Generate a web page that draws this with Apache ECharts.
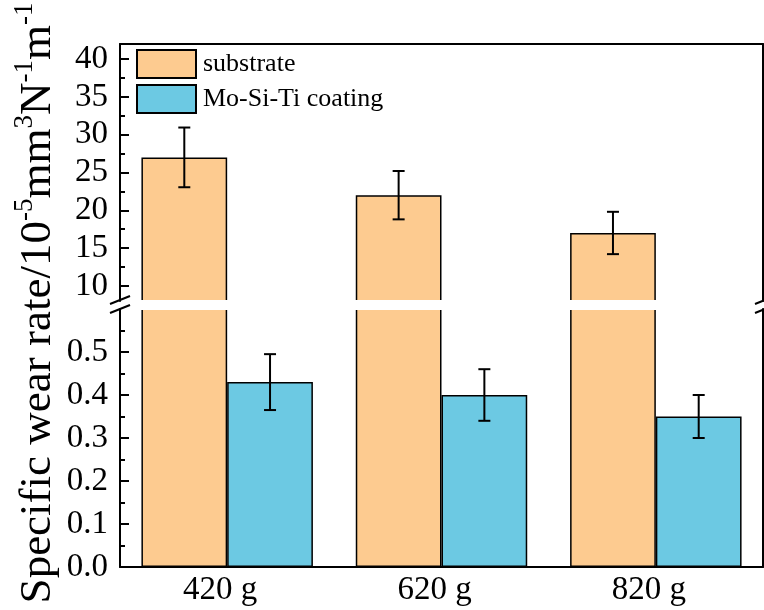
<!DOCTYPE html>
<html>
<head>
<meta charset="utf-8">
<script src="https://cdn.jsdelivr.net/npm/echarts@6/dist/echarts.min.js"></script>
<style>
	html, body { margin: 0; padding: 0; background: #fff; }
	#chart { width: 764px; height: 610px; }
</style>
</head>
<body>
<div id="chart"></div>
<script>
var categories = ['420 g', '620 g', '820 g'];
var substrate = [27, 22, 17];
var substrateErr = [3.95, 3.2, 2.8];
var coating = [0.43, 0.40, 0.35];
var coatingErr = [0.065, 0.06, 0.05];

var upperTicks = [10, 15, 20, 25, 30, 35, 40];
var upperMinor = [12.5, 17.5, 22.5, 27.5, 32.5, 37.5];
var lowerTicks = [0, 0.1, 0.2, 0.3, 0.4, 0.5];
var lowerMinor = [0.05, 0.15, 0.25, 0.35, 0.45, 0.55];

var FONT = "'Liberation Serif', 'Times New Roman', serif";
var colSub = '#FDCB90';
var colCoat = '#6CC9E3';

var chartDom = document.getElementById('chart');
var myChart = echarts.init(chartDom);

function errData(vals, errs) {
	var out = [];
	for (var i = 0; i < vals.length; i++) {
		out.push([i, vals[i] - errs[i], vals[i] + errs[i]]);
	}
	return out;
}

function errRender(offset) {
	return function (params, api) {
		var i = api.value(0);
		var band = api.size([1, 0])[0];
		var hi = api.coord([i, api.value(2)]);
		var lo = api.coord([i, api.value(1)]);
		var x = hi[0] + band * offset;
		var cap = 6;
		var st = { stroke: '#000', lineWidth: 2 };
		return {
			type: 'group',
			children: [
				{ type: 'line', shape: { x1: x, y1: hi[1], x2: x, y2: lo[1] }, style: st },
				{ type: 'line', shape: { x1: x - cap, y1: hi[1], x2: x + cap, y2: hi[1] }, style: st },
				{ type: 'line', shape: { x1: x - cap, y1: lo[1], x2: x + cap, y2: lo[1] }, style: st }
			]
		};
	};
}

// value axis with major ticks + labels
function majorAxis(grid, min, max, ticks, fmt) {
	return {
		type: 'value', gridIndex: grid, position: 'left', min: min, max: max,
		axisLine: { show: true, lineStyle: { color: '#000', width: 2 } },
		axisTick: { show: true, inside: true, length: 9, customValues: ticks, lineStyle: { color: '#000', width: 2 } },
		axisLabel: { show: true, customValues: ticks, margin: 12, fontFamily: FONT, fontSize: 33, color: '#000', formatter: fmt },
		splitLine: { show: false }
	};
}
function minorAxis(grid, min, max, ticks) {
	return {
		type: 'value', gridIndex: grid, position: 'left', min: min, max: max,
		axisLine: { show: false },
		axisTick: { show: true, inside: true, length: 5, customValues: ticks, lineStyle: { color: '#000', width: 2 } },
		axisLabel: { show: false },
		splitLine: { show: false }
	};
}
function rightAxis(grid, min, max) {
	return {
		type: 'value', gridIndex: grid, position: 'right', min: min, max: max,
		axisLine: { show: true, lineStyle: { color: '#000', width: 2 } },
		axisTick: { show: false }, axisLabel: { show: false }, splitLine: { show: false }
	};
}

var barStyle = function (c) { return { color: c, borderColor: '#000', borderWidth: 1.5 }; };

var option = {
	animation: false,
	backgroundColor: '#fff',
	grid: [
		{ left: 120, right: 1, top: 44, height: 257 },
		{ left: 120, right: 1, top: 309, height: 258 }
	],
	legend: {
		data: ['substrate', 'Mo-Si-Ti coating'],
		orient: 'vertical', left: 136, top: 49, padding: 0,
		itemWidth: 59, itemHeight: 28, itemGap: 5,
		icon: 'rect',
		textStyle: { fontFamily: FONT, fontSize: 26, color: '#000', padding: [0, 0, 0, 2] }
	},
	xAxis: [
		{
			type: 'category', gridIndex: 0, data: categories, position: 'top',
			axisLine: { show: true, lineStyle: { color: '#000', width: 2 } },
			axisTick: { show: false }, axisLabel: { show: false }
		},
		{
			type: 'category', gridIndex: 1, data: categories, position: 'bottom',
			axisLine: { show: true, lineStyle: { color: '#000', width: 2 } },
			axisTick: { show: false },
			axisLabel: { margin: 7, fontFamily: FONT, fontSize: 33, color: '#000', padding: [0, 14, 0, 0] }
		}
	],
	yAxis: [
		majorAxis(0, 8, 42, upperTicks, function (v) { return String(v); }),
		minorAxis(0, 8, 42, upperMinor),
		rightAxis(0, 8, 42),
		majorAxis(1, 0, 0.6, lowerTicks, function (v) { return v.toFixed(1); }),
		minorAxis(1, 0, 0.6, lowerMinor),
		rightAxis(1, 0, 0.6)
	],
	series: [
		{ name: 'substrate', type: 'bar', xAxisIndex: 0, yAxisIndex: 0, data: substrate,
			barGap: '0%', barCategoryGap: '20%', itemStyle: barStyle(colSub), clip: true },
		{ name: 'Mo-Si-Ti coating', type: 'bar', xAxisIndex: 0, yAxisIndex: 0, data: coating,
			barGap: '0%', barCategoryGap: '20%', itemStyle: barStyle(colCoat), clip: true },
		{ name: 'substrate', type: 'bar', xAxisIndex: 1, yAxisIndex: 3, data: substrate,
			barGap: '0%', barCategoryGap: '20%', itemStyle: barStyle(colSub), clip: true },
		{ name: 'Mo-Si-Ti coating', type: 'bar', xAxisIndex: 1, yAxisIndex: 3, data: coating,
			barGap: '0%', barCategoryGap: '20%', itemStyle: barStyle(colCoat), clip: true },
		{ name: 'substrate err', type: 'custom', xAxisIndex: 0, yAxisIndex: 0, z: 5,
			data: errData(substrate, substrateErr), encode: { x: 0, y: [1, 2] }, renderItem: errRender(-0.2) },
		{ name: 'coating err', type: 'custom', xAxisIndex: 1, yAxisIndex: 3, z: 5,
			data: errData(coating, coatingErr), encode: { x: 0, y: [1, 2] }, renderItem: errRender(0.2) }
	],
	graphic: [
		{
			type: 'text', x: 36, y: 303, rotation: Math.PI / 2,
			style: {
				text: '{b|Specific wear rate/10}{s|-5}{b|mm}{s|3}{b|N}{s|-1}{b|m}{s|-1}',
				align: 'center', verticalAlign: 'middle',
				rich: {
					b: { fontFamily: FONT, fontSize: 45, lineHeight: 50, verticalAlign: 'bottom', fill: '#000' },
					s: { fontFamily: FONT, fontSize: 27, lineHeight: 30, verticalAlign: 'top', fill: '#000' }
				}
			}
		},
		// white band hiding bar edges at the axis break
		{ type: 'rect', z: 10, shape: { x: 121, y: 300, width: 641, height: 10 }, style: { fill: '#fff' } },
		// axis break marks
		{ type: 'line', z: 11, shape: { x1: 110, y1: 304, x2: 130, y2: 296 }, style: { stroke: '#000', lineWidth: 2 } },
		{ type: 'line', z: 11, shape: { x1: 110, y1: 313, x2: 130, y2: 305 }, style: { stroke: '#000', lineWidth: 2 } },
		{ type: 'line', z: 11, shape: { x1: 755, y1: 304, x2: 775, y2: 296 }, style: { stroke: '#000', lineWidth: 2 } },
		{ type: 'line', z: 11, shape: { x1: 755, y1: 313, x2: 775, y2: 305 }, style: { stroke: '#000', lineWidth: 2 } }
	]
};

myChart.setOption(option);
</script>
</body>
</html>
